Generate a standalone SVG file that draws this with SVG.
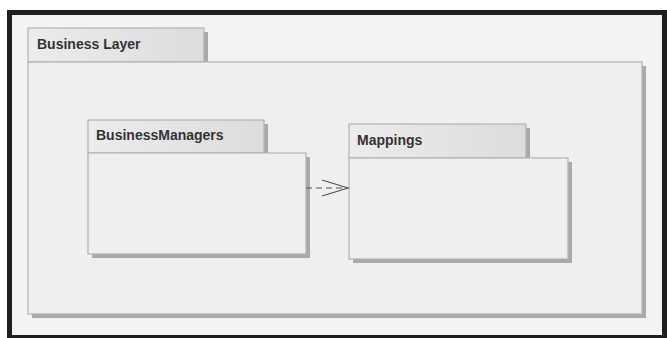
<svg xmlns="http://www.w3.org/2000/svg" width="667" height="338" viewBox="0 0 667 338">
<defs>
<linearGradient id="tabg" x1="0" y1="0" x2="1" y2="0">
<stop offset="0" stop-color="#ececec"/>
<stop offset="1" stop-color="#dcdcdc"/>
</linearGradient>
<marker id="open" markerWidth="30" markerHeight="20" refX="27" refY="9" orient="auto" markerUnits="userSpaceOnUse">
<path d="M1,1 L27,9 L1,17" fill="none" stroke="#555" stroke-width="1.2"/>
</marker>
</defs>
<style>
.shadow{fill:#a9a9a9}
.body{fill:#efefef;stroke:#b3b3b3;stroke-width:1.2}
.tab{fill:url(#tabg);stroke:#b3b3b3;stroke-width:1.2}
.label{font-family:"Liberation Sans",Arial,sans-serif;font-weight:bold;font-size:14px;fill:#333}
.dep{fill:none;stroke:#555;stroke-width:1.2;stroke-dasharray:6,4}
</style>
<rect x="0" y="0" width="667" height="338" fill="#ffffff"/>
<rect x="9.5" y="12.5" width="655" height="325" fill="#f3f3f3" stroke="#1e1e1e" stroke-width="5"/>
<g id="business-layer">
<rect class="shadow" x="32" y="32" width="176" height="34"/>
<rect class="shadow" x="32" y="66" width="614" height="252"/>
<rect class="tab" x="28" y="28" width="176" height="34"/>
<rect class="body" x="28" y="62" width="614" height="252"/>
<text class="label" x="37" y="49">Business Layer</text>
</g>
<g id="business-managers">
<rect class="shadow" x="92" y="124" width="176" height="33"/>
<rect class="shadow" x="92" y="157" width="218" height="101"/>
<rect class="tab" x="88" y="120" width="176" height="33"/>
<rect class="body" x="88" y="153" width="218" height="101"/>
<text class="label" x="96" y="140">BusinessManagers</text>
</g>
<g id="mappings">
<rect class="shadow" x="353" y="128" width="177" height="34"/>
<rect class="shadow" x="353" y="162" width="219" height="101"/>
<rect class="tab" x="349" y="124" width="177" height="34"/>
<rect class="body" x="349" y="158" width="219" height="101"/>
<text class="label" x="357" y="145">Mappings</text>
</g>
<g id="connectors">
<path class="dep" d="M306,188 L348,188" marker-end="url(#open)"/>
</g>
</svg>
